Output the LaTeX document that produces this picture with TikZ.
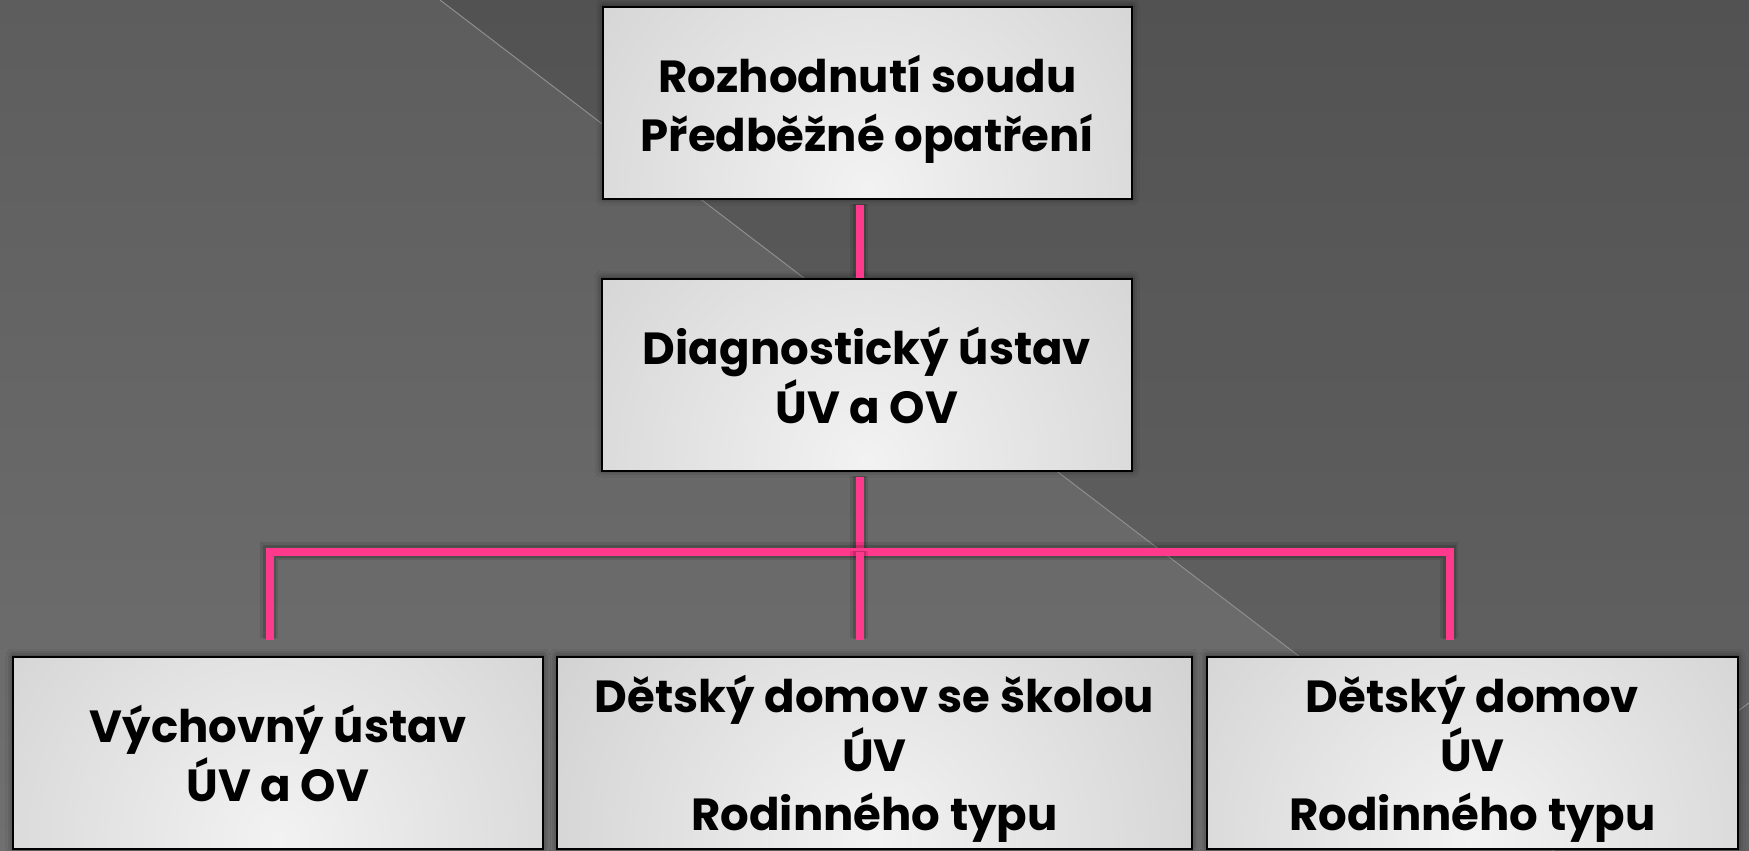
\documentclass[tikz,border=0pt]{standalone}
\usepackage{fontspec}
\setmainfont{Poppins}
\usetikzlibrary{calc,shadows.blur}
\definecolor{bgtop}{HTML}{5D5D5D}
\definecolor{bgbot}{HTML}{707070}
\definecolor{pinkc}{HTML}{FF3A8C}
\definecolor{diagc}{HTML}{8E8E8E}
\pgfdeclareradialshading{boxshade}{\pgfpointorigin}{rgb(0bp)=(0.95,0.95,0.95); rgb(22bp)=(0.83,0.83,0.83); rgb(35bp)=(0.75,0.75,0.75); rgb(50bp)=(0.66,0.66,0.66)}
\tikzset{
  orgbox/.style={rectangle, draw=black, line width=2.5pt, inner sep=0pt,
    align=center, text=black, font=\fontsize{45}{59}\selectfont\bfseries,
    text depth=0pt,
    blur shadow={shadow xshift=0pt, shadow yshift=1pt, shadow blur radius=7pt, shadow opacity=55},
    path picture={\shade[shading=boxshade] ([yshift=10pt]path picture bounding box.south) circle[radius=400pt];}},
  pinkline/.style={draw=pinkc, line width=8.5pt, line join=miter,
    preaction={draw=black, opacity=0.10, line width=18pt, transform canvas={xshift=-1.5pt, yshift=1.5pt}},
    preaction={draw=black, opacity=0.15, line width=13pt, transform canvas={xshift=-1pt, yshift=1pt}}},
  diagline/.style={draw=diagc, line width=1pt}
}
\begin{document}
\begin{tikzpicture}[x=1pt, y=-1pt]
\useasboundingbox (0,0) rectangle (1749,851);
% background
\shade[top color=bgtop, bottom color=bgbot] (0,0) rectangle (1749,851);
\fill[black, opacity=0.11] (440,0) -- (1749,0) -- (1749,851) -- (1554,851) -- cycle;
\draw[diagline] (440,0) -- (1554,851);
\draw[diagline] (1749,703) -- (1690,745);
% boxes
\node[orgbox, minimum width=529pt, minimum height=192pt] (top) at (867.5,103) {Rozhodnutí soudu\\Předběžné opatření};
\node[orgbox, minimum width=530pt, minimum height=192pt] (mid) at (867,375) {Diagnostický ústav\\ÚV a OV};
\node[orgbox, minimum width=530pt, minimum height=192pt] (b1) at (278,753) {Výchovný ústav\\ÚV a OV};
\node[orgbox, minimum width=635pt, minimum height=192pt] (b2) at (874.5,753) {Dětský domov se školou\\ÚV\\Rodinného typu};
\node[orgbox, minimum width=531pt, minimum height=192pt] (b3) at (1472.5,753) {Dětský domov\\ÚV\\Rodinného typu};
% connectors
\coordinate (bus) at (860,552);
\coordinate (busL) at (270,552);
\coordinate (busR) at (1450,552);
\draw[pinkline] ($(top.south -| bus)+(0,5)$) -- (mid.north -| bus);
\draw[pinkline] ($(mid.south -| bus)+(0,5)$) -- (bus);
\draw[pinkline] ($(b1.north -| busL)+(0,-16)$) -- (busL) -- (busR) -- ($(b3.north -| busR)+(0,-16)$);
\draw[pinkline] (bus) -- ($(b2.north -| bus)+(0,-16)$);
\end{tikzpicture}
\end{document}
